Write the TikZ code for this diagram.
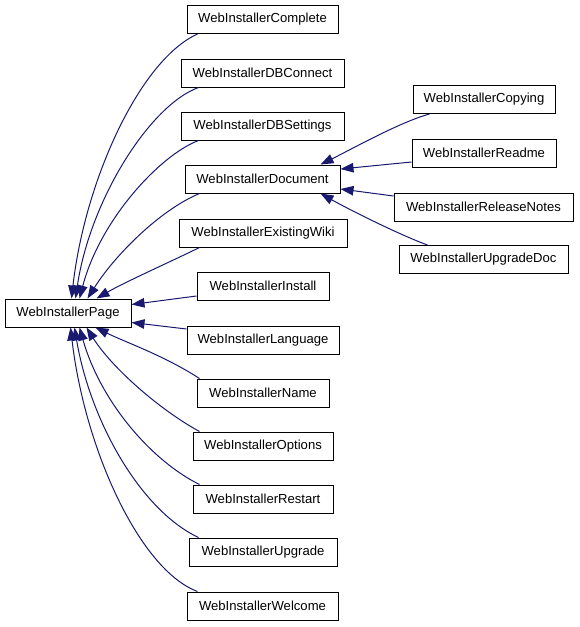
\documentclass[tikz,border=0pt]{standalone}
\usepackage{fontspec}
\setmainfont{Liberation Sans}
\usetikzlibrary{arrows.meta,calc}
\definecolor{edgeblue}{HTML}{191970}
\tikzset{
  cls/.style={draw=black, line width=1pt, fill=white, minimum height=28pt, inner sep=0pt, font=\fontsize{13.1pt}{15pt}\selectfont},
  inh/.style={draw=edgeblue, line width=1pt, -{Triangle[length=13pt,width=9.5pt]}, color=edgeblue}
}
\begin{document}
\begin{tikzpicture}[x=1pt,y=-1pt]
\useasboundingbox (0,0) rectangle (579,627);
% base
\node[cls, minimum width=126pt] (page) at (68,313) {WebInstallerPage};
% left column
\node[cls, minimum width=151pt] (complete) at (262.5,19.5) {WebInstallerComplete};
\node[cls, minimum width=163pt] (dbconnect) at (262.5,73) {WebInstallerDBConnect};
\node[cls, minimum width=163pt] (dbsettings) at (262.5,126) {WebInstallerDBSettings};
\node[cls, minimum width=155pt] (document) at (262.5,179) {WebInstallerDocument};
\node[cls, minimum width=168pt] (existing) at (263,233) {WebInstallerExistingWiki};
\node[cls, minimum width=132pt] (install) at (263,286) {WebInstallerInstall};
\node[cls, minimum width=152pt] (language) at (263,340) {WebInstallerLanguage};
\node[cls, minimum width=132pt] (name) at (263,393) {WebInstallerName};
\node[cls, minimum width=140pt] (options) at (263,446) {WebInstallerOptions};
\node[cls, minimum width=140pt] (restart) at (263,499) {WebInstallerRestart};
\node[cls, minimum width=148pt] (upgrade) at (263,552) {WebInstallerUpgrade};
\node[cls, minimum width=151pt] (welcome) at (262.5,606) {WebInstallerWelcome};
% right column
\node[cls, minimum width=142pt] (copying) at (484,99.5) {WebInstallerCopying};
\node[cls, minimum width=144pt] (readme) at (484,153) {WebInstallerReadme};
\node[cls, minimum width=179pt] (release) at (483.5,207) {WebInstallerReleaseNotes};
\node[cls, minimum width=169pt] (upgradedoc) at (483.5,259.5) {WebInstallerUpgradeDoc};
% edges to page (top side)
\draw[inh] ($(complete.south west)+(11,0)$) .. controls (140,60) and (85,180) .. ($(page.north west)+(67,0)$);
\draw[inh] ($(dbconnect.south west)+(18,0)$) .. controls (150,105) and (90,200) .. ($(page.north west)+(71,0)$);
\draw[inh] ($(dbsettings.south west)+(18,0)$) .. controls (160,155) and (100,220) .. ($(page.north west)+(75,0)$);
\draw[inh] ($(document.south west)+(15,0)$) .. controls (160,210) and (115,255) .. ($(page.north west)+(83,0)$);
\draw[inh] ($(existing.south west)+(21,0)$) .. controls (170,262) and (125,282) .. ($(page.north west)+(92,0)$);
% edges to page (right side)
\draw[inh] ($(install.west)+(0,10)$) -- ($(page.north east)+(0,6)$);
\draw[inh] ($(language.west)+(0,-11)$) -- ($(page.south east)+(0,-5)$);
% edges to page (bottom side)
\draw[inh] ($(name.north west)+(3,0)$) .. controls (165,356) and (125,342) .. ($(page.south west)+(91,0)$);
\draw[inh] ($(options.north west)+(7,0)$) .. controls (160,410) and (112,368) .. ($(page.south west)+(82,0)$);
\draw[inh] ($(restart.north west)+(7,0)$) .. controls (150,460) and (100,400) .. ($(page.south west)+(75,0)$);
\draw[inh] ($(upgrade.north west)+(10,0)$) .. controls (140,510) and (90,420) .. ($(page.south west)+(70,0)$);
\draw[inh] ($(welcome.north west)+(11,0)$) .. controls (140,570) and (85,450) .. ($(page.south west)+(66,0)$);
% edges to document
\draw[inh] ($(copying.south west)+(17,0)$) .. controls (400,122) and (350,150) .. ($(document.north east)+(-20,0)$);
\draw[inh] ($(readme.west)+(0,9)$) -- ($(document.east)+(0,-10)$);
\draw[inh] ($(release.west)+(0,-11)$) -- ($(document.east)+(0,10)$);
\draw[inh] ($(upgradedoc.north west)+(29,0)$) .. controls (400,235) and (350,210) .. ($(document.south east)+(-20,0)$);
\end{tikzpicture}
\end{document}
